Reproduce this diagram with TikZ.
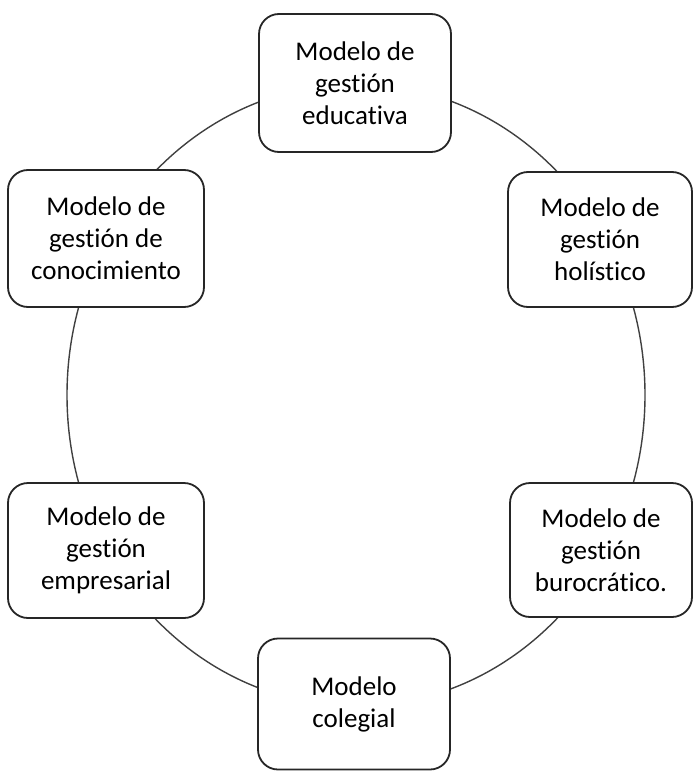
\documentclass[tikz,border=0pt]{standalone}
\usepackage{fontspec}
\setmainfont{Carlito}[Ligatures={NoCommon}]
\begin{document}
\begin{tikzpicture}[x=1pt,y=-1pt,
  box/.style={draw=black!85, line width=1.8pt, rounded corners=20pt, fill=white,
    align=center, text=black, font=\fontsize{27}{32}\selectfont, inner sep=0pt},
  ring/.style={draw=black!75, line width=1.4pt}]
\useasboundingbox (0,0) rectangle (694,773);
\coordinate (c) at (356,395);
\draw[ring] (c) ellipse [x radius=289, y radius=311];
\node[box, minimum width=192pt, minimum height=138pt] (edu) at (355,83) {Modelo de\\gestión\\educativa};
\node[box, minimum width=196pt, minimum height=137pt] (con) at (106,238.5) {Modelo de\\gestión de\\conocimiento};
\node[box, minimum width=184pt, minimum height=135pt] (hol) at (600,239.5) {Modelo de\\gestión\\holístico};
\node[box, minimum width=196pt, minimum height=135pt] (emp) at (106,550.5) {Modelo de\\gestión\\empresarial};
\node[box, minimum width=182pt, minimum height=134pt] (bur) at (601,550) {Modelo de\\gestión\\burocrático.};
\node[box, minimum width=192pt, minimum height=131pt] (col) at (354,704) {Modelo\\colegial};
\end{tikzpicture}
\end{document}
